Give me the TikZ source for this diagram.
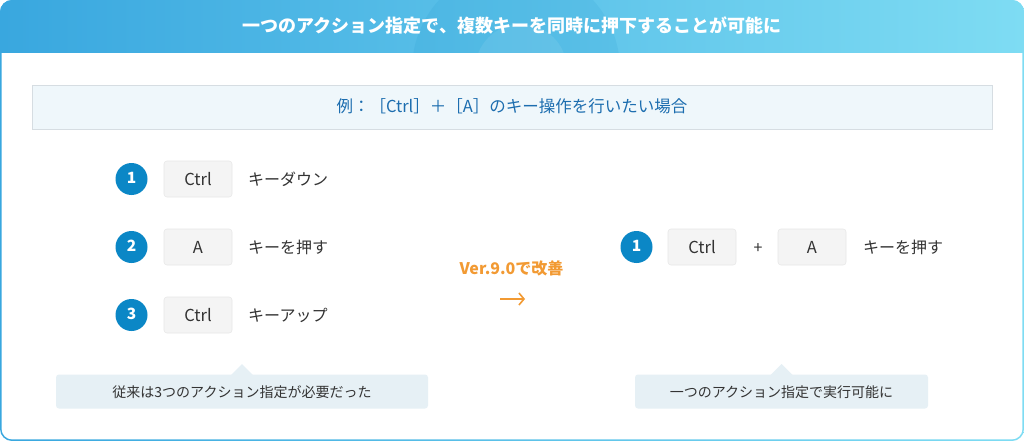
\documentclass[tikz,border=0pt]{standalone}
\usepackage{fontspec}
\setmainfont{Noto Sans CJK JP}
\usetikzlibrary{arrows.meta}
\definecolor{hdrL}{HTML}{39A7DF}
\definecolor{hdrR}{HTML}{7EDCF3}
\definecolor{numblue}{HTML}{0B87C6}
\definecolor{keyfill}{HTML}{F4F4F4}
\definecolor{keyline}{HTML}{E8E8E8}
\definecolor{txt}{HTML}{333333}
\definecolor{exbg}{HTML}{EFF7FB}
\definecolor{exline}{HTML}{D6DDE2}
\definecolor{extext}{HTML}{1C6DAF}
\definecolor{callbg}{HTML}{E6F0F5}
\definecolor{orng}{HTML}{F29A33}
\newcommand{\fs}[1]{\fontsize{#1}{#1}\selectfont}
\begin{document}
\begin{tikzpicture}[x=1pt,y=-1pt,
  tx/.style={inner sep=0pt, text height=1.2em, text depth=0pt},
  keybox/.style={tx, fill=keyfill, draw=keyline, line width=0.6pt, rounded corners=3pt,
    minimum width=68pt, minimum height=36pt, text=txt, font=\fs{16.5}},
  num/.style={circle, fill=numblue, minimum size=32pt, inner sep=0pt, text=white,
    font=\bfseries\fs{15.5}, text height=0.9em, text depth=0pt},
  lbl/.style={tx, anchor=west, text=txt, font=\fs{16}},
  callout/.style={tx, fill=callbg, rounded corners=3pt, text=txt, font=\fs{14}, minimum height=34pt},
  arr/.style={draw=orng, line width=1.6pt, -{Straight Barb[length=5pt,width=12pt,line width=1.6pt]}}
]
\useasboundingbox (0,0) rectangle (1024,441);
% frame
\begin{scope}
  \clip[rounded corners=12pt] (0,0) rectangle (1024,441);
  \shade[left color=hdrL, right color=hdrR] (0,0) rectangle (1024,441);
\end{scope}
\fill[white, rounded corners=10.5pt] (1.6,30) rectangle (1022.4,439.4);
\begin{scope}
  \clip[rounded corners=12pt] (0,0) rectangle (1024,441);
  \clip (0,0) rectangle (1024,53);
  \shade[left color=hdrL, right color=hdrR] (0,0) rectangle (1024,53);
  \fill[numblue, opacity=0.10] (516,70) circle (104);
  \fill[white, opacity=0.08] (521,70) circle (46);
\end{scope}
\node[tx, text=white, font=\bfseries\fs{18}] (title) at (512,26.5) {一つのアクション指定で、複数キーを同時に押下することが可能に};
% example box
\node[tx, fill=exbg, draw=exline, line width=0.8pt, minimum width=960pt, minimum height=44pt,
  text=extext, font=\fs{16.5}] (ex) at (512,107) {例：［Ctrl］＋［A］のキー操作を行いたい場合};
% left steps
\node[num] (n1) at (131.5,179) {1};
\node[num] (n2) at (131.5,247) {2};
\node[num] (n3) at (131.5,315) {3};
\node[keybox] (k1) at (198,179) {Ctrl};
\node[keybox] (k2) at (198,247) {A};
\node[keybox] (k3) at (198,315) {Ctrl};
\node[lbl] (l1) at (248,179.5) {キーダウン};
\node[lbl] (l2) at (248,247.5) {キーを押す};
\node[lbl] (l3) at (248,315.5) {キーアップ};
% left callout
\node[callout, minimum width=372pt] (c1) at (242,391.5) {従来は3つのアクション指定が必要だった};
\fill[callbg] (231,375) -- (242,364) -- (253,375) -- cycle;
% middle
\node[tx, text=orng, font=\bfseries\fs{16}] (ver) at (511.5,268) {Ver.9.0で改善};
\coordinate (a1) at (500,299);
\coordinate (a2) at (525,299);
\draw[arr] (a1) -- (a2);
% right
\node[num] (r1) at (636.5,247) {1};
\node[keybox] (rk1) at (702,247) {Ctrl};
\node[tx, text=txt, font=\fs{16}] (plus) at (758,247) {+};
\node[keybox] (rk2) at (812,247) {A};
\node[lbl] (rl) at (863,247.5) {キーを押す};
\node[callout, minimum width=293pt] (c2) at (781.5,391.5) {一つのアクション指定で実行可能に};
\fill[callbg] (770.5,375) -- (781.5,364) -- (792.5,375) -- cycle;
\end{tikzpicture}
\end{document}
